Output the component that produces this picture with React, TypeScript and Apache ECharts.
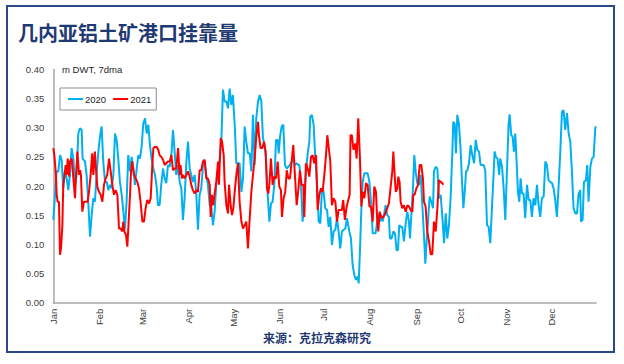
import React, { useEffect, useRef } from "react";
import * as echarts from "echarts";

const TITLE = "几内亚铝土矿港口挂靠量";
const SOURCE = "来源：克拉克森研究";
const UNIT = "m DWT, 7dma";

const monthStarts = [0, 31, 60, 91, 121, 152, 182, 213, 244, 274, 305, 335];
const monthNames = ["Jan", "Feb", "Mar", "Apr", "May", "Jun", "Jul", "Aug", "Sep", "Oct", "Nov", "Dec"];

// [day of year, value]
const series2020: [number, number][] = [
  [0, 0.142], [1.1, 0.182], [2.2, 0.225], [3.4, 0.225], [4.5, 0.253], [5.6, 0.245], [6.7, 0.196], [7.8, 0.225],
  [9, 0.213], [10.1, 0.193], [11.2, 0.219], [12.3, 0.265], [13.5, 0.247], [14.6, 0.202], [15.7, 0.219], [16.8, 0.29],
  [17.9, 0.299], [19.1, 0.296], [19.7, 0.247], [21.3, 0.242], [22.4, 0.219], [23.5, 0.173], [24.7, 0.113], [25.8, 0.15],
  [26.9, 0.179], [28, 0.173], [29.1, 0.219], [30.3, 0.259], [31.4, 0.285], [32.5, 0.302], [33.6, 0.242], [34.8, 0.207],
  [35.9, 0.207], [37, 0.193], [38.1, 0.202], [39.2, 0.196], [40.4, 0.219], [41.5, 0.29], [42.6, 0.279], [43.7, 0.247],
  [44.8, 0.207], [46, 0.185], [47.1, 0.156], [48.2, 0.127], [49.3, 0.173], [50.4, 0.253], [51.6, 0.225], [52.7, 0.25],
  [53.8, 0.23], [54.9, 0.202], [56.1, 0.23], [57.2, 0.253], [58.3, 0.247], [59.4, 0.267], [60.5, 0.307], [61.7, 0.316],
  [62.8, 0.29], [63.9, 0.305], [65, 0.27], [66.1, 0.247], [67.3, 0.23], [68.4, 0.219], [69.5, 0.199], [70.4, 0.167],
  [71.5, 0.167], [72.6, 0.202], [73.8, 0.23], [74.9, 0.213], [76, 0.205], [77.1, 0.236], [78.3, 0.233], [79.4, 0.253],
  [80.5, 0.296], [81.6, 0.259], [82.7, 0.219], [83.9, 0.236], [85, 0.207], [86.1, 0.196], [87.2, 0.142], [88.3, 0.179],
  [89.5, 0.242], [90.6, 0.276], [91.7, 0.23], [92.8, 0.219], [93.9, 0.207], [95.1, 0.219], [96.2, 0.185], [97.3, 0.125],
  [98.4, 0.185], [99.5, 0.196], [100.7, 0.236], [101.8, 0.242], [102.9, 0.219], [104, 0.202], [105.2, 0.167], [106.3, 0.162],
  [107.4, 0.133], [108.5, 0.156], [109.6, 0.202], [110.8, 0.225], [111.9, 0.247], [113, 0.276], [114.1, 0.365], [115.2, 0.345],
  [116.4, 0.345], [117.5, 0.333], [118.6, 0.367], [119.7, 0.339], [120.8, 0.356], [122, 0.305], [123.1, 0.239], [124.2, 0.239],
  [125.3, 0.239], [126.5, 0.19], [127.6, 0.213], [128.7, 0.302], [129.8, 0.276], [130.9, 0.256], [132.1, 0.256], [133.2, 0.225],
  [134.3, 0.322], [135.4, 0.236], [136.5, 0.316], [137.7, 0.345], [138.8, 0.356], [139.9, 0.345], [141, 0.282], [142.1, 0.27],
  [143, 0.25], [144.2, 0.185], [145.3, 0.139], [146.4, 0.17], [147.5, 0.173], [148.6, 0.202], [149.8, 0.279], [150.9, 0.279],
  [151.6, 0.256], [152.5, 0.285], [153.6, 0.302], [154.7, 0.305], [155.8, 0.236], [157, 0.23], [158.1, 0.233], [159.2, 0.236],
  [160.3, 0.242], [161.4, 0.245], [162.5, 0.236], [163.7, 0.239], [164.8, 0.236], [165.5, 0.236], [166.6, 0.202], [167.7, 0.139],
  [168.8, 0.185], [169.9, 0.222], [171.1, 0.256], [172.2, 0.276], [172.8, 0.319], [173.9, 0.322], [175.1, 0.305], [176.2, 0.247],
  [177.3, 0.207], [178.5, 0.139], [179.6, 0.136], [180.7, 0.196], [181.8, 0.19], [182.9, 0.162], [184.1, 0.159], [185.2, 0.13],
  [186.3, 0.147], [187.4, 0.099], [188.5, 0.122], [189.7, 0.125], [190.8, 0.145], [191.9, 0.122], [193, 0.093], [194.1, 0.122],
  [195.3, 0.125], [196.4, 0.127], [197.5, 0.145], [199.1, 0.122], [200.2, 0.11], [201.3, 0.065], [202.5, 0.047], [203.6, 0.039],
  [204.7, 0.045], [205.4, 0.033], [206.3, 0.093], [207.2, 0.162], [208.1, 0.207], [209.2, 0.222], [210.3, 0.222], [211.4, 0.222],
  [212.6, 0.207], [213.7, 0.173], [214.8, 0.119], [215.7, 0.119], [216.8, 0.119], [217.9, 0.139], [219, 0.153], [219.7, 0.139],
  [220.6, 0.15], [221.5, 0.139], [222.4, 0.15], [223.5, 0.167], [224.6, 0.15], [225.7, 0.147], [226.4, 0.11], [227.5, 0.11],
  [228.7, 0.122], [229.8, 0.119], [230.9, 0.09], [231.8, 0.09], [232.7, 0.133], [233.6, 0.13], [234.7, 0.13], [235.8, 0.105],
  [237, 0.136], [238.1, 0.156], [239.2, 0.139], [239.9, 0.11], [240.8, 0.15], [241.9, 0.196], [242.8, 0.253], [243.7, 0.225],
  [244.8, 0.205], [245.9, 0.202], [247.1, 0.219], [248.2, 0.167], [249.3, 0.116], [250.2, 0.067], [251.1, 0.105], [252, 0.139],
  [253.1, 0.182], [254.2, 0.173], [255.4, 0.162], [256, 0.225], [257.2, 0.233], [258.3, 0.23], [259.4, 0.179], [260.5, 0.185],
  [261.6, 0.15], [262.8, 0.102], [263.9, 0.153], [265, 0.11], [266.1, 0.133], [267.2, 0.179], [268.4, 0.259], [269, 0.31],
  [269.9, 0.307], [270.8, 0.256], [271.7, 0.322], [272.8, 0.307], [273.9, 0.265], [274.9, 0.207], [275.8, 0.162], [276.7, 0.19],
  [277.6, 0.225], [278.5, 0.227], [279.6, 0.239], [280.7, 0.27], [281.8, 0.253], [283, 0.239], [284.1, 0.279], [285.2, 0.262],
  [286.3, 0.259], [287.4, 0.236], [288.3, 0.236], [289.4, 0.236], [290.5, 0.227], [291.7, 0.133], [292.8, 0.13], [293.9, 0.102],
  [295, 0.162], [296.1, 0.219], [296.8, 0.259], [297.7, 0.25], [298.8, 0.247], [299.9, 0.219], [300.6, 0.247], [301.8, 0.233],
  [302.9, 0.196], [304, 0.142], [305.1, 0.225], [306.2, 0.305], [306.9, 0.323], [308, 0.287], [308.9, 0.285], [309.8, 0.259],
  [310.7, 0.29], [311.6, 0.242], [312.5, 0.19], [313.4, 0.173], [314.3, 0.213], [315.2, 0.187], [316.3, 0.187], [317.4, 0.145],
  [318.6, 0.202], [319.7, 0.176], [320.8, 0.176], [321.9, 0.147], [323, 0.179], [324.2, 0.167], [325.3, 0.202], [326.4, 0.167],
  [327.5, 0.147], [328.6, 0.179], [329.8, 0.182], [330.9, 0.242], [332, 0.236], [333.1, 0.21], [334.2, 0.207], [335.4, 0.205],
  [336.5, 0.196], [337.6, 0.176], [338.7, 0.147], [339.9, 0.202], [341, 0.259], [342.1, 0.327], [343.2, 0.33], [344.3, 0.296],
  [345.5, 0.325], [346.6, 0.29], [347.7, 0.276], [348.8, 0.225], [349.9, 0.162], [351.1, 0.153], [352.2, 0.153], [353.3, 0.187],
  [354.4, 0.193], [354.9, 0.139], [356, 0.142], [356.9, 0.207], [358.2, 0.21], [359.1, 0.236], [360, 0.173], [361.2, 0.233],
  [362.3, 0.247], [363.4, 0.25], [364.5, 0.299], [365, 0.302],
];

const series2021: [number, number][] = [
  [0, 0.265], [0.7, 0.253], [1.6, 0.225], [2.3, 0.185], [2.9, 0.173], [3.8, 0.173], [4.5, 0.082], [5.2, 0.093],
  [6.1, 0.133], [6.7, 0.202], [7.4, 0.216], [8.3, 0.236], [9, 0.219], [9.7, 0.247], [10.6, 0.216], [11.2, 0.242],
  [12.4, 0.247], [13.5, 0.213], [14.6, 0.179], [15.3, 0.219], [16.2, 0.259], [17.3, 0.219], [18, 0.227], [18.6, 0.219],
  [19.5, 0.156], [20.6, 0.173], [21.8, 0.173], [23.1, 0.173], [24, 0.19], [25.1, 0.219], [26.2, 0.256], [26.9, 0.219],
  [28, 0.259], [28.7, 0.23], [29.6, 0.199], [30.7, 0.19], [31.9, 0.185], [33, 0.173], [34.1, 0.202], [35.2, 0.213],
  [36.3, 0.219], [37.5, 0.247], [38.6, 0.225], [39.7, 0.202], [40.8, 0.185], [41.9, 0.193], [43.1, 0.185], [44.2, 0.127],
  [45.3, 0.127], [46.4, 0.122], [47.1, 0.139], [47.8, 0.122], [48.9, 0.116], [49.8, 0.096], [50.9, 0.15], [51.6, 0.185],
  [52.3, 0.225], [53.1, 0.242], [54.3, 0.219], [55.4, 0.213], [56.5, 0.207], [57.6, 0.196], [58.8, 0.17], [59.9, 0.139],
  [61, 0.139], [62.1, 0.162], [63.2, 0.176], [64.4, 0.17], [65.5, 0.179], [66.6, 0.236], [67.3, 0.265], [68.4, 0.267],
  [69.5, 0.267], [70.6, 0.262], [71.5, 0.253], [72.6, 0.25], [73.8, 0.245], [74.9, 0.236], [76, 0.239], [77.1, 0.242],
  [78.3, 0.242], [79.4, 0.253], [80.5, 0.227], [81.6, 0.23], [82.7, 0.23], [83.9, 0.265], [85, 0.219], [85.6, 0.236],
  [86.5, 0.213], [87.2, 0.219], [88.3, 0.213], [89.5, 0.219], [90.6, 0.225], [91.7, 0.216], [92.8, 0.202], [93.9, 0.193],
  [95.1, 0.187], [96.2, 0.193], [97.3, 0.19], [98.4, 0.227], [99.5, 0.227], [100.7, 0.242], [101.8, 0.245], [102.9, 0.213],
  [104, 0.213], [105.2, 0.202], [105.8, 0.147], [106.7, 0.185], [107.6, 0.167], [108.5, 0.187], [109.6, 0.207], [110.8, 0.242],
  [111.4, 0.202], [112.6, 0.282], [113.5, 0.276], [114.6, 0.253], [115.2, 0.207], [116.4, 0.167], [117.5, 0.153], [118.2, 0.202],
  [119.3, 0.167], [120.2, 0.15], [121.1, 0.162], [122, 0.19], [123.1, 0.219], [124.2, 0.239], [125.3, 0.173], [126.5, 0.139],
  [127.6, 0.127], [128.7, 0.133], [129.8, 0.139], [130.9, 0.093], [132.1, 0.145], [133.2, 0.19], [134.3, 0.219], [135.4, 0.247],
  [136.5, 0.285], [137.7, 0.31], [138.3, 0.287], [139.4, 0.265], [140.6, 0.265], [141.7, 0.276], [142.8, 0.259], [143.7, 0.196],
  [144.6, 0.187], [145.3, 0.202], [146.4, 0.247], [147.5, 0.202], [148.6, 0.216], [149.8, 0.213], [150.9, 0.242], [152, 0.199],
  [153.1, 0.193], [153.8, 0.147], [154.9, 0.179], [156, 0.19], [157, 0.227], [158.1, 0.213], [159.2, 0.213], [160.3, 0.242],
  [161.4, 0.27], [162.5, 0.219], [163.7, 0.167], [164.8, 0.193], [165.9, 0.227], [167, 0.202], [168.2, 0.202], [168.8, 0.147],
  [169.9, 0.239], [171.1, 0.23], [172.2, 0.216], [173.3, 0.25], [174.4, 0.253], [175.5, 0.239], [176.7, 0.253], [177.8, 0.159],
  [178.9, 0.185], [180, 0.196], [181.1, 0.19], [182.3, 0.219], [183.4, 0.253], [184.3, 0.287], [185.2, 0.267], [186.3, 0.242],
  [187.4, 0.167], [188.5, 0.179], [189.7, 0.173], [190.8, 0.139], [191.9, 0.159], [193, 0.159], [194.1, 0.159], [195, 0.176],
  [196.1, 0.142], [197.3, 0.165], [198.4, 0.176], [199.3, 0.185], [199.9, 0.287], [200.8, 0.287], [201.9, 0.262], [203.1, 0.273],
  [204, 0.247], [205.1, 0.316], [206.2, 0.25], [207.2, 0.165], [208.1, 0.19], [209.2, 0.179], [210.3, 0.205], [211.4, 0.202],
  [212.6, 0.165], [213.7, 0.165], [214.8, 0.139], [215.9, 0.199], [217, 0.19], [217.9, 0.139], [218.6, 0.122], [219.5, 0.156],
  [220.2, 0.15], [221, 0.145], [221.9, 0.147], [222.8, 0.15], [223.7, 0.156], [224.6, 0.162], [225.7, 0.17], [226.9, 0.199],
  [228, 0.225], [228.7, 0.259], [229.6, 0.219], [230.3, 0.19], [231.4, 0.196], [232, 0.216], [232.9, 0.207], [233.6, 0.173],
  [234.7, 0.162], [235.8, 0.167], [237, 0.156], [238.1, 0.167], [239.2, 0.165], [240.3, 0.159], [241.5, 0.156], [242.1, 0.185],
  [243, 0.185], [244.2, 0.196], [245.3, 0.202], [246.4, 0.236], [247.5, 0.236], [248.6, 0.213], [249.3, 0.173], [250.4, 0.165],
  [251.5, 0.122], [252.7, 0.105], [253.8, 0.083], [254.9, 0.083], [256, 0.139], [257.2, 0.122], [258.3, 0.162], [259.4, 0.21],
  [260.5, 0.207], [261.6, 0.205], [262.3, 0.202],
];

const FONT = "'Liberation Sans', Arial, sans-serif";
const CJK = "'Noto Sans CJK SC', sans-serif";
const NAVY = "#1F3A73";

export default function App() {
  const ref = useRef<HTMLDivElement>(null);
  useEffect(() => {
    if (!ref.current) return;
    const chart = echarts.init(ref.current, null, { renderer: "svg" });
    chart.setOption({
      animation: false,
      backgroundColor: "#fff",
      grid: { left: 53.3, top: 69.3, right: 28, bottom: 61.3 },
      legend: {
        left: 60,
        top: 88,
        orient: "horizontal",
        data: ["2020", "2021"],
        icon: "rect",
        borderColor: "#8c8c8c",
        borderWidth: 1,
        padding: [6, 5, 6, 8],
        itemGap: 7,
        itemWidth: 15,
        itemHeight: 2,
        textStyle: { fontFamily: FONT, fontSize: 9.5, color: "#262626", padding: [0, 0, 0, -3] },
      },
      xAxis: {
        type: "value",
        min: 0,
        max: 365,
        splitLine: { show: false },
        axisLine: { show: true, lineStyle: { color: "#a6a6a6", width: 1.5 } },
        axisTick: { show: false },
        axisLabel: {
          customValues: monthStarts,
          rotate: 90,
          margin: 6,
          fontFamily: FONT,
          fontSize: 9.5,
          color: "#404040",
          formatter: (v: number) => monthNames[monthStarts.indexOf(Math.round(v))] ?? "",
        },
      },
      yAxis: {
        type: "value",
        min: 0,
        max: 0.4,
        interval: 0.05,
        splitLine: { show: false },
        axisLine: { show: true, lineStyle: { color: "#a6a6a6", width: 1.5 } },
        axisTick: { show: false },
        axisLabel: {
          margin: 9,
          fontFamily: FONT,
          fontSize: 9.5,
          color: "#404040",
          formatter: (v: number) => v.toFixed(2),
        },
      },
      series: [
        {
          name: "2020",
          type: "line",
          data: series2020,
          symbol: "none",
          lineStyle: { color: "#00B0F0", width: 2 },
          itemStyle: { color: "#00B0F0" },
        },
        {
          name: "2021",
          type: "line",
          data: series2021,
          symbol: "none",
          lineStyle: { color: "#FF0000", width: 2 },
          itemStyle: { color: "#FF0000" },
        },
      ],
      graphic: [
        {
          type: "rect",
          shape: { x: 7, y: 6, width: 607, height: 346 },
          style: { fill: "none", stroke: "#2B4689", lineWidth: 2 },
          silent: true,
        },
        {
          type: "text",
          x: 18,
          y: 32,
          style: { text: TITLE, font: `bold 20px ${CJK}`, fill: NAVY, verticalAlign: "middle" },
        },
        {
          type: "text",
          x: 62,
          y: 69.5,
          style: { text: UNIT, font: `9.5px ${FONT}`, fill: "#262626", verticalAlign: "middle" },
        },
        {
          type: "text",
          x: 263,
          y: 337,
          style: { text: SOURCE, font: `bold 12px ${CJK}`, fill: NAVY, verticalAlign: "middle" },
        },
      ],
    });
    return () => chart.dispose();
  }, []);
  return (
    <div
      ref={ref}
      style={{ position: "absolute", left: 0, top: 0, width: 624, height: 364 }}
    />
  );
}
